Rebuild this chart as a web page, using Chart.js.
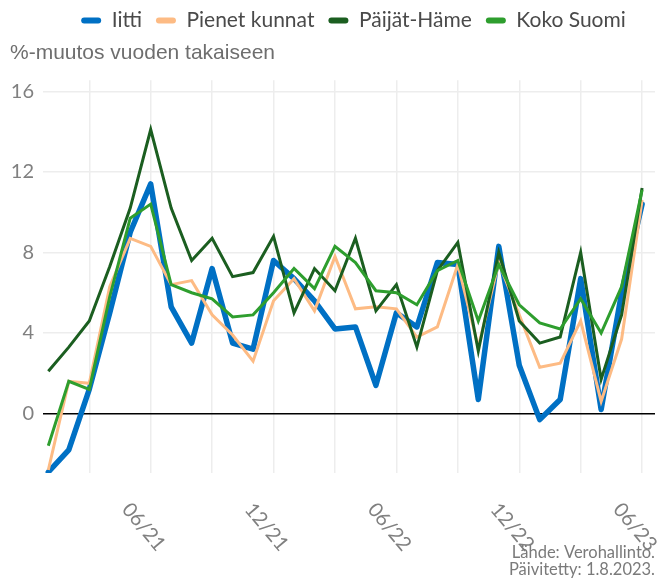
<!DOCTYPE html>
<html><head><meta charset="utf-8">
<script src="https://cdn.jsdelivr.net/npm/chart.js@4.4.1/dist/chart.umd.min.js"></script>
<style>html,body{margin:0;padding:0;background:#fff}#wrap{width:659px;height:579px}</style>
</head><body><div id="wrap"><canvas id="c" width="659" height="579"></canvas></div>
<script>
const months = ['01/21','02/21','03/21','04/21','05/21','06/21','07/21','08/21','09/21','10/21','11/21','12/21',
  '01/22','02/22','03/22','04/22','05/22','06/22','07/22','08/22','09/22','10/22','11/22','12/22',
  '01/23','02/23','03/23','04/23','05/23','06/23'];
const seriesNames = ['Iitti','Pienet kunnat','Päijät-Häme','Koko Suomi'];
const iitti  = [-2.9,-1.8,1.2,5.0,9.0,11.4,5.3,3.5,7.2,3.5,3.2,7.6,6.7,5.6,4.2,4.3,1.4,5.0,4.3,7.5,7.4,0.7,8.3,2.4,-0.3,0.7,6.7,0.2,6.0,10.4];
const pienet = [-2.8,1.6,1.5,6.3,8.7,8.3,6.4,6.6,4.9,3.9,2.6,5.6,6.7,5.1,7.8,5.2,5.3,5.2,3.8,4.3,7.4,3.3,7.5,4.9,2.3,2.5,4.6,0.6,3.7,10.6];
const paijat = [2.1,3.3,4.6,7.3,10.2,14.1,10.2,7.6,8.7,6.8,7.0,8.8,5.0,7.2,6.1,8.7,5.1,6.4,3.3,7.1,8.5,3.1,8.0,4.6,3.5,3.8,8.0,1.7,4.9,11.2];
const koko   = [-1.6,1.6,1.2,5.8,9.7,10.4,6.4,6.0,5.7,4.8,4.9,6.0,7.2,6.2,8.3,7.5,6.1,6.0,5.4,7.1,7.6,4.6,7.4,5.4,4.5,4.2,5.7,4.0,6.3,11.1];
const yTicks = [0,4,8,12,16];
const labelMonths = ['06','12'];
const yTitle = '%-muutos vuoden takaiseen';
const sourceLines = ['Lähde: Verohallinto.','Päivitetty: 1.8.2023.'];

const colors = ['#0070C4','#FDBB84','#1B5E20','#2E9E2E'];
const widths = [5.5,3,3,3];
const allSeries = [iitti, pienet, paijat, koko];

const datasets = allSeries.map((arr,k)=>({
  label: seriesNames[k],
  data: arr.map((v,i)=>({x:i,y:v})),
  borderColor: colors[k], backgroundColor: colors[k],
  borderWidth: widths[k], pointRadius: 0, pointHoverRadius: 0, tension: 0,
  order: 4-k,
  borderJoinStyle: k===0 ? 'round' : 'miter',
  borderCapStyle: k===0 ? 'round' : 'butt'
}));

const gridIdx = months.map((m,i)=>i).filter(i => (i-2) % 3 === 0);

const custom = {
  id: 'custom',
  afterLayout(chart){
    const lg = chart.legend;
    if (lg) { lg.left += 21; lg.right += 21; }
  },
  afterDraw(chart){
    const ctx = chart.ctx, xs = chart.scales.x;
    ctx.save();
    ctx.fillStyle = '#808080';
    ctx.font = '20px Lato';
    ctx.textAlign = 'center'; ctx.textBaseline = 'middle';
    months.forEach((m,i)=>{
      if (!labelMonths.includes(m.slice(0,2))) return;
      const x = xs.getPixelForValue(i);
      ctx.save();
      ctx.translate(x - 7, 527);
      ctx.rotate(50*Math.PI/180);
      ctx.fillText(m, 0, 0);
      ctx.restore();
    });
    ctx.fillStyle = '#7a7a7a';
    ctx.font = '16.5px Lato';
    ctx.textAlign = 'right';
    sourceLines.forEach((t,j)=> ctx.fillText(t, 655, 553 + j*17));
    ctx.restore();
  }
};

new Chart(document.getElementById('c'), {
  type: 'line',
  data: { datasets },
  plugins: [custom],
  options: {
    responsive: false, animation: false, devicePixelRatio: 1,
    layout: { padding: { left: 10, right: 4, top: -4, bottom: 106 } },
    plugins: {
      tooltip: { enabled: false },
      legend: {
        position: 'top', weight: 3000,
        labels: {
          font: { family: 'Lato', size: 21 }, color: '#4a4a4a',
          boxWidth: 20, boxHeight: 6, padding: 14,
          useBorderRadius: true, borderRadius: 3,
          sort: (a,b)=>a.datasetIndex-b.datasetIndex,
          generateLabels: (chart)=>Chart.defaults.plugins.legend.labels.generateLabels(chart).map(l=>Object.assign(l,{lineWidth:0, strokeStyle:'rgba(0,0,0,0)'}))
        }
      },
      title: {
        display: true, text: yTitle, align: 'start', weight: 500,
        font: { family: 'Liberation Sans', size: 21, weight: 'normal' }, color: '#6e6e6e',
        padding: { top: 0, bottom: 14 }
      }
    },
    scales: {
      x: {
        type: 'linear', min: -0.26, max: 29.63,
        afterBuildTicks: s => { s.ticks = gridIdx.map(v=>({value:v})); },
        ticks: { display: false },
        grid: { color: '#ededed', lineWidth: 1.5, drawTicks: false },
        border: { display: false }
      },
      y: {
        type: 'linear', min: -2.95, max: 16.55,
        afterBuildTicks: s => { s.ticks = yTicks.map(v=>({value:v})); },
        afterFit: s => { s.width = 33; },
        ticks: { font: { family: 'Lato', size: 20 }, color: '#808080', padding: 9 },
        grid: {
          color: c => (c.tick && c.tick.value === 0) ? '#000000' : '#ededed',
          lineWidth: 1.5, drawTicks: false
        },
        border: { display: false }
      }
    }
  }
});
</script></body></html>
